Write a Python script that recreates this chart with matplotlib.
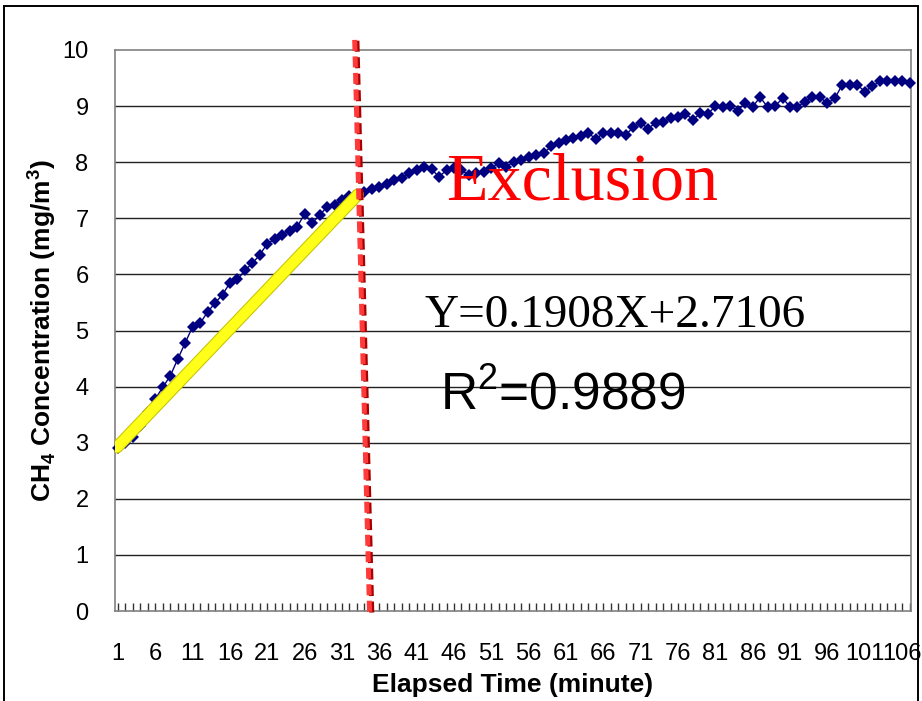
import matplotlib
matplotlib.use("Agg")
import matplotlib.pyplot as plt
import matplotlib.patheffects as pe
from matplotlib.patches import Rectangle
import numpy as np

SANS  = "Liberation Sans"
SERIF = "Liberation Serif"
NAVY  = "#000080"

plt.rcParams["mathtext.fontset"] = "custom"
plt.rcParams["mathtext.rm"] = SANS
plt.rcParams["mathtext.bf"] = f"{SANS}:bold"

# CH4 concentration (mg/m3) per elapsed minute 1..107
minutes = np.arange(1, 108)
ch4 = [
    2.90, 3.00, 3.10, 3.30, 3.55, 3.78, 3.99, 4.19, 4.49, 4.78,
    5.07, 5.13, 5.33, 5.49, 5.64, 5.85, 5.91, 6.07, 6.20, 6.35,
    6.55, 6.63, 6.70, 6.78, 6.85, 7.08, 6.91, 7.06, 7.20, 7.24,
    7.33, 7.39, 7.42, 7.47, 7.52, 7.56, 7.62, 7.68, 7.72, 7.80,
    7.86, 7.91, 7.87, 7.74, 7.86, 7.89, 7.86, 7.77, 7.80, 7.83,
    7.90, 7.98, 7.92, 8.01, 8.04, 8.09, 8.13, 8.16, 8.28, 8.34,
    8.40, 8.43, 8.47, 8.52, 8.41, 8.52, 8.52, 8.52, 8.48, 8.63,
    8.70, 8.60, 8.70, 8.72, 8.78, 8.80, 8.86, 8.76, 8.87, 8.86,
    9.00, 8.99, 9.00, 8.92, 9.06, 8.99, 9.16, 8.98, 9.00, 9.14,
    8.99, 8.99, 9.08, 9.17, 9.16, 9.05, 9.14, 9.38, 9.38, 9.38,
    9.26, 9.35, 9.44, 9.44, 9.44, 9.44, 9.42,
]

# hand-drawn fit line and exclusion marker (endpoints)
fit_x = [0.87, 33.1]
fit_y = [2.92, 7.42]
cut_x = [32.7, 34.7]
cut_y = [10.18, -0.07]

xtick_vals = list(range(1, 107, 5))
ytick_vals = list(range(0, 11))

fig = plt.figure(figsize=(9.22, 7.01), dpi=100)
ax = fig.add_axes([115 / 922, 1 - 611 / 701, (911 - 115) / 922, (611 - 50) / 701])

# outer chart frame (bottom edge falls off the picture)
fig.add_artist(Rectangle((4 / 922, -0.02), 914 / 922, 1.02 - 6 / 701,
                         transform=fig.transFigure, fill=False,
                         edgecolor="black", linewidth=1.4))

ax.set_xlim(0.6, 107.2)
ax.set_ylim(0, 10)

for y in ytick_vals[1:-1]:
    ax.axhline(y, color="#222222", linewidth=1.0, zorder=1)

ax.plot(minutes, ch4, color=NAVY, linewidth=1.0, marker="D",
        markersize=6, markeredgewidth=0, zorder=3, clip_on=False)

ax.plot(fit_x, fit_y, color="#ffff1a", linewidth=7.5, solid_capstyle="round",
        zorder=4, path_effects=[pe.Stroke(linewidth=9, foreground="#c4c400"),
                                pe.Normal()])

ax.plot(cut_x, cut_y, color="#ff3a3a", linewidth=3.6,
        linestyle=(0, (2.2, 1.1)), solid_capstyle="butt", zorder=6, clip_on=False,
        path_effects=[pe.SimpleLineShadow(offset=(1.6, -0.6),
                                          shadow_color="#a80000", alpha=1.0),
                      pe.Normal()])

ax.text(45.0, 7.33, "Exclusion", color="red", fontsize=49,
        family=SERIF, ha="left", va="baseline", zorder=7)
ax.text(42.0, 5.06, "Y=0.1908X+2.7106", color="black", fontsize=34,
        family=SERIF, ha="left", va="baseline", zorder=7)
ax.text(44.1, 3.6, r"R$^2$=0.9889", color="black", fontsize=37,
        family=SANS, ha="left", va="baseline", zorder=7)

for side in ["left", "bottom", "top", "right"]:
    ax.spines[side].set_color("#808080")
    ax.spines[side].set_linewidth(1.2)

ax.set_yticks(ytick_vals)
ax.set_yticklabels([str(v) for v in ytick_vals], family=SANS, fontsize=17)
ax.tick_params(axis="y", length=0, pad=19)

ax.set_xticks(xtick_vals)
ax.set_xticklabels([str(v) for v in xtick_vals], family=SANS, fontsize=17)
ax.set_xticks(minutes, minor=True)
ax.tick_params(axis="x", which="both", direction="in", length=6,
               width=1.0, color="#333333", pad=23)

ax.set_xlabel("Elapsed Time (minute)", family=SANS, fontsize=19,
              fontweight="bold", labelpad=6)
ax.set_ylabel(r"CH$_\mathbf{4}$ Concentration (mg/m$^\mathbf{3}$)",
              family=SANS, fontsize=19, fontweight="bold", labelpad=3)

fig.savefig("out.png", dpi=100, facecolor="white")
